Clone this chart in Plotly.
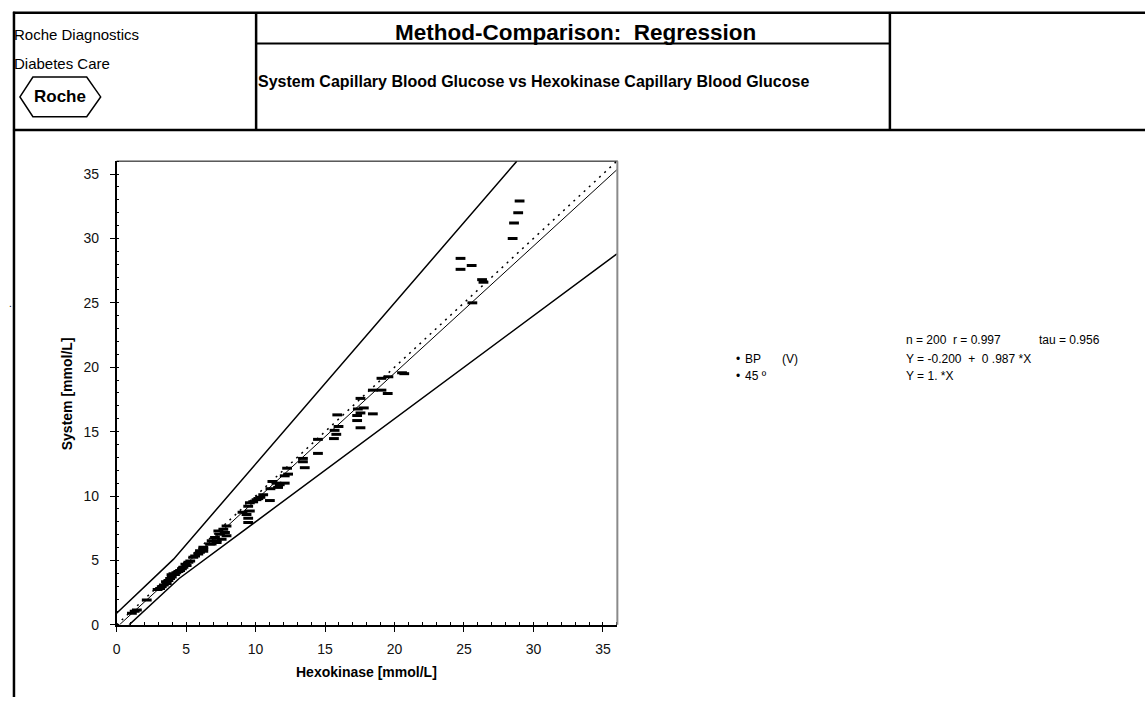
import plotly.graph_objects as go

W, H = 1145, 705

# ---------------- data ----------------
hexokinase = [1.10, 1.30, 1.46, 2.17, 2.95, 3.13, 3.25, 3.40, 3.61, 3.73, 3.55, 3.85, 3.97, 4.09, 3.95,
              4.20, 4.30, 4.45, 4.57, 4.70, 4.81, 4.95, 5.04, 5.17, 5.30, 5.52, 5.65, 5.88, 6.00, 6.00,
              6.24, 6.24, 6.24, 6.72, 6.84, 6.84, 7.08, 7.20, 7.20, 7.32, 7.44, 7.56, 7.68, 7.80, 7.91,
              7.91, 9.06, 9.35, 9.47, 9.47, 9.47, 9.59, 9.59, 9.83, 10.07, 10.35, 10.55, 10.20, 11.03,
              11.07, 11.21, 11.50, 11.62, 11.74, 12.10, 12.10, 12.34, 12.27, 13.41, 13.54, 13.41,
              14.49, 14.49, 15.64, 15.69, 15.81, 15.97, 15.88, 17.31, 17.31, 17.55, 17.55, 17.36, 17.79,
              17.55, 18.44, 18.44, 19.06, 19.51, 19.06, 19.56, 20.54, 20.70,
              24.75, 24.75, 25.55, 26.30, 26.40, 25.60, 28.50, 28.60, 28.90, 29.00]
system = [0.90, 1.05, 1.15, 1.92, 2.75, 2.82, 2.95, 3.10, 3.20, 3.45, 3.35, 3.60, 3.71, 3.97, 3.88,
          3.90, 4.05, 4.15, 4.22, 4.35, 4.48, 4.70, 4.60, 4.86, 4.95, 5.25, 5.35, 5.50, 5.63, 5.76,
          5.89, 6.02, 5.71, 6.27, 6.27, 6.52, 6.78, 6.40, 6.52, 7.29, 7.04, 6.65, 7.42, 7.17, 7.67,
          6.91, 8.75, 8.57, 9.21, 8.27, 7.94, 9.47, 8.83, 9.55, 9.72, 9.90, 10.10, 9.80, 9.65,
          10.57, 11.13, 11.00, 10.67, 10.88, 11.00, 11.57, 11.70, 12.16, 12.92, 12.20, 12.66,
          14.40, 13.31, 14.46, 15.10, 14.79, 15.40, 16.30, 15.86, 16.25, 16.45, 15.30, 16.76, 16.84,
          17.58, 16.38, 18.22, 18.22, 17.96, 19.14, 19.26, 19.57, 19.50,
          28.45, 27.60, 27.90, 26.80, 26.60, 25.00, 30.00, 31.20, 32.00, 32.90]

# regression (Passing-Bablok) and identity
intercept, slope = -0.200, 0.987
axis_max = 36
# acceptance limit lines
upper_x = [0, 4.1, 28.8]
upper_y = [0.9, 5.1, 36]
lower_x = [0.9, 4.5, 36]
lower_y = [0, 3.6, 28.8]

tick_vals = [0, 5, 10, 15, 20, 25, 30, 35]

# ---------------- helpers for pixel placement ----------------
def fx(p):
    return p / W

def fy(p):
    return 1 - p / H

FONT = "Liberation Sans, Arial, sans-serif"

fig = go.Figure()

fig.add_trace(go.Scatter(x=upper_x, y=upper_y, mode="lines",
                         line=dict(color="black", width=1.5), hoverinfo="skip"))
fig.add_trace(go.Scatter(x=lower_x, y=lower_y, mode="lines",
                         line=dict(color="black", width=1.5), hoverinfo="skip"))
fig.add_trace(go.Scatter(x=[0, axis_max], y=[0, axis_max], mode="lines",
                         line=dict(color="black", width=1.5, dash="2px,5px"), hoverinfo="skip"))
x0r = -intercept / slope
fig.add_trace(go.Scatter(x=[x0r, axis_max], y=[intercept + slope * x0r, intercept + slope * axis_max],
                         mode="lines", line=dict(color="black", width=1), hoverinfo="skip"))
fig.add_trace(go.Scatter(x=hexokinase, y=system, mode="markers",
                         marker=dict(symbol="line-ew", size=7, color="black",
                                     line=dict(color="black", width=3))))

x_dom = [fx(113), fx(615)]
y_dom = [fy(632), fy(163)]

axis_common = dict(range=[0, axis_max], tickvals=tick_vals, showgrid=False, zeroline=False,
                   showline=True, linecolor="black", linewidth=1.5, ticks="outside", ticklen=5,
                   tickcolor="black", tickwidth=1,
                   tickfont=dict(family=FONT, size=14, color="#111"),
                   minor=dict(dtick=1, ticks="inside", ticklen=3, tickcolor="black", tickwidth=1))

fig.update_layout(
    width=W, height=H, margin=dict(l=0, r=0, t=0, b=0),
    paper_bgcolor="white", plot_bgcolor="white", showlegend=False,
    xaxis=dict(domain=x_dom, ticklabelstandoff=6, **axis_common),
    yaxis=dict(domain=y_dom, ticklabelstandoff=8, **axis_common),
)

shapes = []
def hline(y, x0, x1, w=2, c="black"):
    shapes.append(dict(type="line", xref="paper", yref="paper", x0=fx(x0), x1=fx(x1),
                       y0=fy(y), y1=fy(y), line=dict(color=c, width=w)))
def vline(x, y0, y1, w=2, c="black"):
    shapes.append(dict(type="line", xref="paper", yref="paper", x0=fx(x), x1=fx(x),
                       y0=fy(y0), y1=fy(y1), line=dict(color=c, width=w)))

# header table
hline(13, 9, W, w=2.5)
hline(131.5, 9, W, w=2.5)
vline(10, 12, H, w=2.5)
vline(253, 13, 131, w=2.5)
vline(889, 13, 131, w=2.5)
hline(44, 253, 889, w=2)
# plot frame top / right
hline(163, 113, 616, w=1, c="black")
vline(615.5, 163, 632, w=2, c="#8a8a8a")

# Roche hexagon logo
hx = [(16, 98), (29, 78), (83, 78), (97, 98), (83, 118), (29, 118)]
path = "M " + " L ".join(f"{fx(a)},{fy(b)}" for a, b in hx) + " Z"
shapes.append(dict(type="path", xref="paper", yref="paper", path=path,
                   line=dict(color="black", width=1.5)))
fig.update_layout(shapes=shapes)

ann = []
def text(s, x, y, size=12, bold=False, xanchor="left", family=FONT, angle=0):
    if bold:
        s = f"<b>{s}</b>"
    ann.append(dict(text=s, x=fx(x), y=fy(y), xref="paper", yref="paper", showarrow=False,
                    xanchor=xanchor, yanchor="middle", textangle=angle,
                    font=dict(family=family, size=size, color="black")))

text("Roche Diagnostics", 8, 35, size=15)
text("Diabetes Care", 8, 64, size=15)
text("Roche", 56, 98, size=17, bold=True, xanchor="center",
     family="Liberation Sans Narrow, Arial Narrow, Liberation Sans, Arial, sans-serif")
text("Method-Comparison:  Regression", 574, 33, size=22.5, bold=True, xanchor="center")
text("System Capillary Blood Glucose vs Hexokinase Capillary Blood Glucose", 253, 82,
     size=16, bold=True)

# axis titles
text("Hexokinase [mmol/L]", 364, 680, size=14, bold=True, xanchor="center")
text("System [mmol/L]", 64, 398, size=14, bold=True, xanchor="center", angle=-90)

# statistics block
text("n = 200", 903, 344, size=12)
text("r = 0.997", 950, 344, size=12)
text("tau = 0.956", 1037, 344, size=12)
text("•", 733, 363, size=12)
text("BP", 742, 363, size=12)
text("(V)", 779, 363, size=12)
text("Y = -0.200  +  0 .987 *X", 903, 363, size=12)
text("•", 733, 380, size=12)
text("45 º", 742, 380, size=12)
text("Y = 1. *X", 903, 380, size=12)
text(".", 3, 307, size=10)

fig.update_layout(annotations=ann)

fig.write_html("out.html", config={"displayModeBar": False},
               post_script="document.body.style.margin='0';document.body.style.overflow='hidden';")
